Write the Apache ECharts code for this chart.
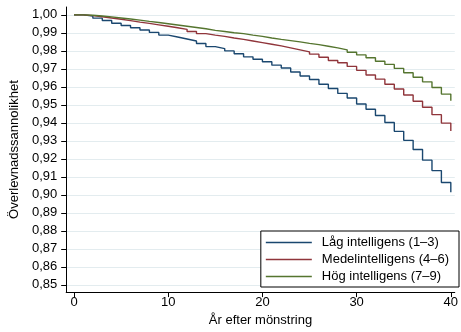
<!DOCTYPE html>
<html>
<head>
<meta charset="utf-8">
<script src="https://cdn.jsdelivr.net/npm/echarts@6/dist/echarts.min.js"></script>
<style>
  html, body { margin: 0; padding: 0; background: #fff; }
  #chart { width: 461px; height: 332px; }
</style>
</head>
<body>
<div id="chart"></div>
<script>
// ---- data ----
const years = [0,1,2,3,4,5,6,7,8,9,10,11,12,13,14,15,16,17,18,19,20,21,22,23,24,25,26,27,28,29,30,31,32,33,34,35,36,37,38,39,40];
const seriesNames = ['Låg intelligens (1–3)', 'Medelintelligens (4–6)', 'Hög intelligens (7–9)'];
const lagValues = [1.0000,0.9994,0.9982,0.9969,0.9954,0.9941,0.9929,0.9916,0.9903,0.9888,0.9877,0.9866,0.9855,
  0.9841,0.9824,0.9813,0.9800,0.9784,0.9767,0.9754,0.9740,0.9721,0.9705,0.9683,0.9661,0.9641,0.9615,0.9591,
  0.9564,0.9538,0.9505,0.9476,0.9441,0.9402,0.9353,0.9303,0.9252,0.9193,0.9135,0.9069,0.9015];
const medelValues = [1.0000,0.9996,0.9990,0.9983,0.9976,0.9968,0.9960,0.9953,0.9945,0.9937,0.9929,0.9920,0.9908,
  0.9896,0.9888,0.9881,0.9872,0.9864,0.9855,0.9846,0.9837,0.9828,0.9817,0.9806,0.9795,0.9782,0.9765,0.9747,
  0.9734,0.9714,0.9692,0.9666,0.9643,0.9615,0.9588,0.9555,0.9520,0.9487,0.9446,0.9399,0.9355];
const hogValues = [1.0000,0.9998,0.9994,0.9989,0.9983,0.9977,0.9971,0.9964,0.9958,0.9951,0.9944,0.9937,0.9930,
  0.9923,0.9914,0.9908,0.9901,0.9896,0.9888,0.9881,0.9872,0.9864,0.9857,0.9850,0.9842,0.9835,0.9826,0.9817,
  0.9806,0.9793,0.9778,0.9762,0.9743,0.9725,0.9703,0.9679,0.9654,0.9628,0.9597,0.9560,0.9523];
const xTicks = [0, 10, 20, 30, 40];
const yTicks = [0.85,0.86,0.87,0.88,0.89,0.90,0.91,0.92,0.93,0.94,0.95,0.96,0.97,0.98,0.99,1.00];

// ---- chart ----
const FONT = "'Liberation Sans', Arial, sans-serif";
const colors = ['#1a476f', '#90353b', '#55752f'];
const allValues = [lagValues, medelValues, hogValues];
const LEGEND_ICON = 'path://M0,0H46V1.3H0Z';

const chart = echarts.init(document.getElementById('chart'), null, { renderer: 'canvas' });

const series = allValues.map((vals, i) => ({
  name: seriesNames[i],
  type: 'line',
  step: 'end',
  symbol: 'none',
  showSymbol: false,
  z: 3,
  animation: false,
  lineStyle: { color: colors[i], width: 1.4 },
  itemStyle: { color: colors[i] },
  data: years.map((y, k) => [y, vals[k]])
}));

chart.setOption({
  animation: false,
  backgroundColor: '#ffffff',
  textStyle: { fontFamily: FONT },
  grid: { left: 62, right: 3, top: 7, bottom: 37, containLabel: false },
  xAxis: {
    type: 'value',
    min: -0.83,
    max: 40.42,
    name: 'År efter mönstring',
    nameLocation: 'middle',
    nameGap: 19,
    nameTextStyle: { fontSize: 13, color: '#000', fontFamily: FONT },
    axisLine: { show: true, onZero: false, lineStyle: { color: '#000', width: 1 } },
    axisTick: { show: true, length: 5, lineStyle: { color: '#000' }, customValues: xTicks },
    axisLabel: { fontSize: 13, color: '#000', margin: 4, fontFamily: FONT, customValues: xTicks },
    splitLine: { show: false }
  },
  yAxis: {
    type: 'value',
    min: 0.846,
    max: 1.0044,
    splitNumber: 15,
    name: 'Överlevnadssannolikhet',
    nameLocation: 'middle',
    nameGap: 42,
    nameTextStyle: { fontSize: 13, color: '#000', fontFamily: FONT },
    axisLine: { show: true, onZero: false, lineStyle: { color: '#000', width: 1 } },
    axisTick: { show: true, length: 5, lineStyle: { color: '#000' }, customValues: yTicks },
    axisLabel: {
      fontSize: 13, color: '#000', margin: 9, fontFamily: FONT, customValues: yTicks,
      formatter: v => v.toFixed(2).replace('.', ',')
    },
    splitLine: { show: true, lineStyle: { color: '#e3ecef', width: 1 } }
  },
  legend: {
    data: seriesNames.map(n => ({ name: n, icon: LEGEND_ICON })),
    orient: 'vertical',
    right: 2,
    top: 231,
    itemWidth: 46,
    itemHeight: 14,
    itemGap: 4,
    padding: [5, 10, 4, 5],
    borderColor: '#000',
    borderWidth: 1,
    backgroundColor: '#fff',
    selectedMode: false,
    textStyle: { fontSize: 13, color: '#000', fontFamily: FONT, padding: [0, 0, 0, 5] }
  },
  series: series
});
</script>
</body>
</html>
